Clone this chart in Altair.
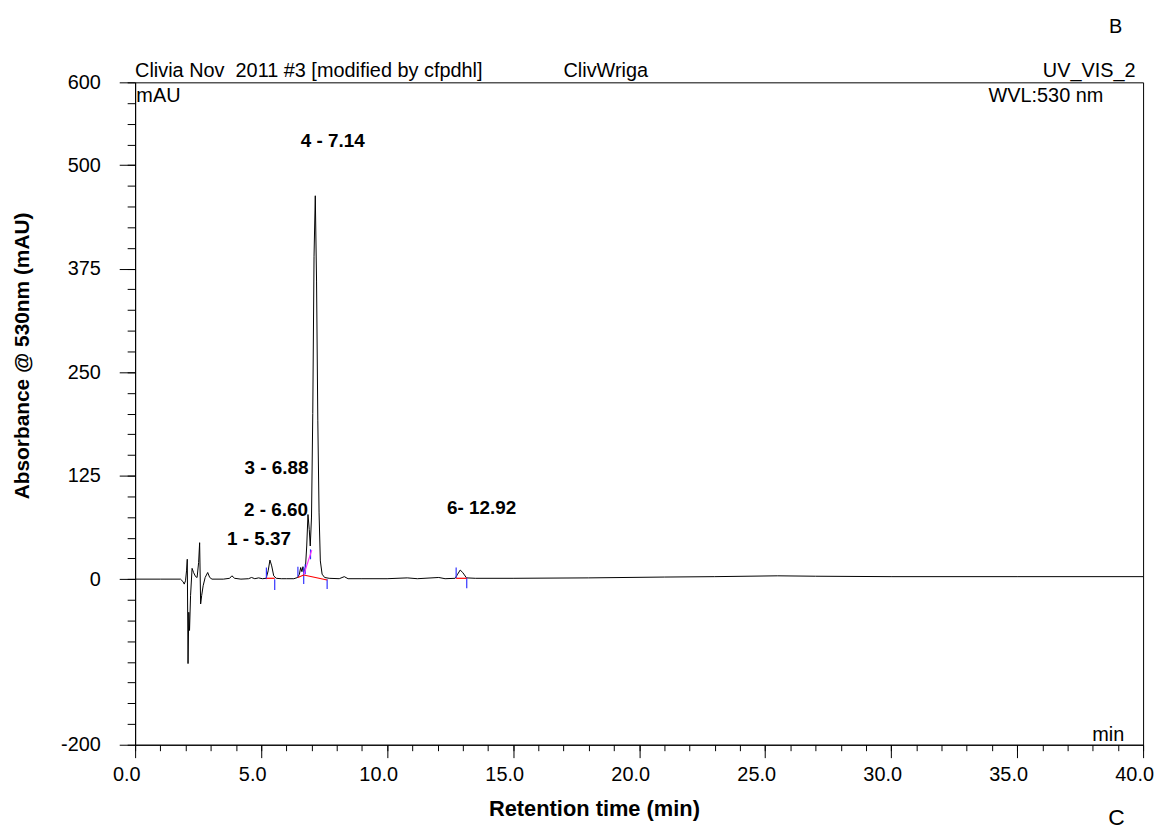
import altair as alt
import pandas as pd

# ---- chromatogram trace (retention time in min, absorbance in mAU) ----
times = [0.0, 1.0, 1.80, 1.90, 1.95, 2.00, 2.04, 2.07, 2.10, 2.13, 2.16, 2.20, 2.26, 2.32, 2.40,
         2.46, 2.52, 2.56, 2.60, 2.64, 2.70, 2.78, 2.88, 2.96, 3.05, 3.5, 3.75, 3.84, 3.95, 4.2,
         4.5, 4.62, 4.75, 4.9, 5.05, 5.20, 5.28, 5.35, 5.42, 5.50, 5.60, 5.80, 6.0, 6.30, 6.45,
         6.52, 6.57, 6.62, 6.66, 6.71, 6.76, 6.81, 6.86, 6.91, 6.95, 7.00, 7.05, 7.10, 7.15, 7.20,
         7.25, 7.30, 7.35, 7.42, 7.52, 7.70, 8.10, 8.30, 8.45, 9.0, 10.0, 10.8, 11.2, 12.05, 12.3,
         12.70, 12.80, 12.90, 13.00, 13.15, 13.5, 15.0, 18.0, 21.0, 23.0, 25.5, 27.0, 30.0, 35.0, 40.0]
absorb = [0, 0, 0, -3, -6, -2, 10, 24, -102, -40, -62, -20, 13, 8, 3,
          2, 20, 44, -30, -20, -8, 2, 8, 2, 0, 0, 1, 4, 1, 0,
          0.5, 2, 0.5, 1.5, 0.5, 1, 10, 23, 16, 4, 1, 0.5, 0.5, 0.5, 2,
          6, 14, 9, 15, 8, 14, 40, 78, 60, 40, 75, 200, 390, 463, 360,
          192, 80, 22, 6, 2, 1, 0.5, 3, 0.5, 0.5, 0.5, 1.5, 0.5, 2, 0.5,
          1, 6, 11, 8, 1.5, 1, 1, 1.5, 2.5, 3, 4, 3.5, 3, 3, 3]

# ---- integration marks (peak start/end ticks, baselines, skim line) ----
seg_t1 = [5.21, 5.54, 6.46, 6.69, 6.75, 6.96, 7.62, 12.74, 13.16, 5.21, 6.46, 6.69, 12.74, 6.70]
seg_a1 = [0, 0, 3, -6, 6, 24, 0, 1, 2, 1, 2, 5, 1, 6]
seg_t2 = [5.21, 5.54, 6.46, 6.69, 6.75, 6.96, 7.62, 12.74, 13.16, 5.54, 6.69, 7.62, 13.16, 7.01]
seg_a2 = [14, -13, 15, 14, 18, 36, -12, 14, -11, 1, 5, -1, 1, 35]
seg_col = ["#3333ff"] * 9 + ["#ff0000"] * 4 + ["#ff33ff"]

# ---- peak labels ----
peak_labels = ["1 - 5.37", "2 - 6.60", "3 - 6.88", "4 - 7.14", "6- 12.92"]
peak_lx = [4.92, 5.59, 5.61, 7.84, 13.75]
peak_ly = [49, 84, 134, 529, 86]

x_major = [0, 5, 10, 15, 20, 25, 30, 35, 40]
x_minor = list(range(0, 41))
y_major = [-200, 0, 125, 250, 375, 500, 600]
y_minor = list(range(-200, 601, 25))

FONT = "Liberation Sans"
xs = alt.Scale(domain=[0, 40], nice=False, zero=False)
ys = alt.Scale(domain=[-200, 600], nice=False, zero=False)

trace = pd.DataFrame({"t": times, "A": absorb})
segs = pd.DataFrame({"t1": seg_t1, "a1": seg_a1, "t2": seg_t2, "a2": seg_a2, "c": seg_col})
labels = pd.DataFrame({"t": peak_lx, "A": peak_ly, "label": peak_labels})

major_x = alt.Axis(values=x_major, format=".1f", tickSize=13, labelFontSize=20, labelPadding=7,
                   labelOffset=-9, labelFlush=False, labelOverlap=False, labelColor="black",
                   tickColor="black", domainColor="black", grid=False,
                   title="Retention time (min)", titleFontSize=22, titleFontWeight="bold",
                   titleColor="black", titleX=462, titleY=64, titleBaseline="middle",
                   titleAlign="center", orient="bottom")
minor_x = alt.Axis(values=x_minor, tickSize=6, labels=False, domain=False, grid=False,
                   title=None, tickColor="black", orient="bottom")
major_y = alt.Axis(values=y_major, tickSize=16, labelFontSize=20, labelPadding=19,
                   labelExpr="datum.value < 0 ? '-' + abs(datum.value) : '' + datum.value",
                   labelColor="black", tickColor="black", domainColor="black", grid=False,
                   labelOverlap=False, labelFlush=False,
                   title="Absorbance @ 530nm (mAU)", titleFontSize=21, titleFontWeight="bold",
                   titleColor="black", titleX=-113, titleY=275, titleAngle=270,
                   titleAlign="center", titleBaseline="middle", orient="left")
minor_y = alt.Axis(values=y_minor, tickSize=8, labels=False, domain=False, grid=False,
                   title=None, tickColor="black", orient="left")

line = alt.Chart(trace).mark_line(color="black", strokeWidth=1).encode(
    x=alt.X("t:Q", scale=xs, axis=major_x),
    y=alt.Y("A:Q", scale=ys, axis=major_y),
)

rules = alt.Chart(segs).mark_rule(strokeWidth=1.2).encode(
    x=alt.X("t1:Q", scale=xs, axis=minor_x),
    x2="t2:Q",
    y=alt.Y("a1:Q", scale=ys, axis=minor_y),
    y2="a2:Q",
    color=alt.Color("c:N", scale=None),
)

peak_text = alt.Chart(labels).mark_text(fontSize=19, fontWeight="bold", color="black",
                                        align="center", baseline="middle").encode(
    x=alt.X("t:Q", scale=xs, axis=None),
    y=alt.Y("A:Q", scale=ys, axis=None),
    text="label:N",
)


def note(txt, t, a, size=20, align="left", baseline="alphabetic"):
    return alt.Chart(alt.Data(values=[{}])).mark_text(
        text=txt, fontSize=size, align=align, baseline=baseline, color="black"
    ).encode(x=alt.datum(t, scale=xs, axis=None), y=alt.datum(a, scale=ys, axis=None))


notes = [
    note("Clivia Nov\u00a0 2011 #3 [modified by cfpdhl]", 0.0, 607),
    note("ClivWriga", 17.0, 607),
    note("UV_VIS_2", 39.7, 607, align="right"),
    note("mAU", 0.05, 584, baseline="middle"),
    note("WVL:530 nm", 38.42, 584, align="right", baseline="middle"),
    note("min", 39.25, -188, align="right", baseline="middle"),
    note("B", 38.91, 667, size=20, align="center", baseline="middle"),
    note("C", 38.94, -288, size=23, align="center", baseline="middle"),
]

chart = alt.layer(line, rules, peak_text, *notes).resolve_axis(
    x="independent", y="independent"
).properties(
    width=1015, height=667,
    autosize=alt.AutoSizeParams(type="none"),
    padding={"left": 128, "top": 72, "right": 14, "bottom": 82},
).configure(font=FONT).configure_view(stroke="black", strokeWidth=1)

chart.save("out.html", embed_options={"renderer": "svg", "actions": False})
